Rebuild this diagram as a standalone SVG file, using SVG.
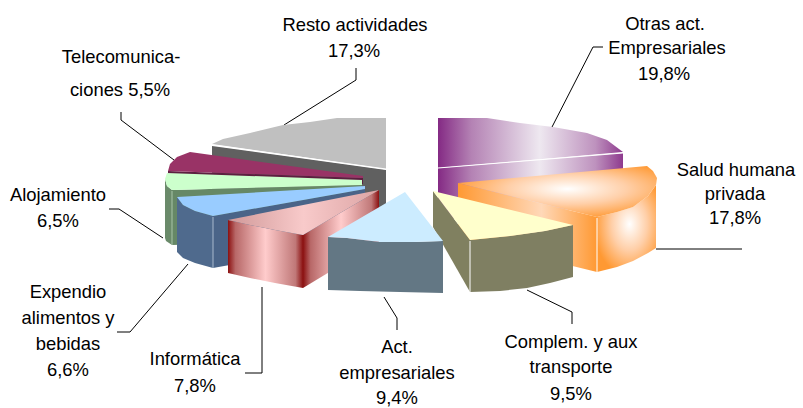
<svg xmlns="http://www.w3.org/2000/svg" width="803" height="408" viewBox="0 0 803 408">
<style>
text{font-family:"Liberation Sans",Arial,sans-serif;font-size:18.4px;fill:#000;text-anchor:middle}
.lead{fill:none;stroke:#000;stroke-width:1}
.hl{fill:none;stroke:#fff;stroke-width:1}
</style>
<defs>
<linearGradient id="gPurple" x1="0" y1="0" x2="1" y2="0">
<stop offset="0" stop-color="#842A84"/><stop offset="0.18" stop-color="#B482B4"/><stop offset="0.55" stop-color="#EEE8F0"/><stop offset="0.85" stop-color="#BE92BE"/><stop offset="1" stop-color="#8E3A8E"/>
</linearGradient>
<radialGradient id="gOrange" cx="0.55" cy="0.45" r="0.6">
<stop offset="0" stop-color="#FFFFFF"/><stop offset="0.5" stop-color="#FFCFA8"/><stop offset="1" stop-color="#FF9933"/>
</radialGradient>
<linearGradient id="gOrangeR" x1="0" y1="0" x2="1" y2="0">
<stop offset="0" stop-color="#FF9933"/><stop offset="0.6" stop-color="#FFD8B8"/><stop offset="1" stop-color="#FF9933"/>
</linearGradient>
<linearGradient id="gPink" x1="0" y1="0" x2="1" y2="0">
<stop offset="0" stop-color="#8B1010"/><stop offset="0.1" stop-color="#B86868"/><stop offset="0.5" stop-color="#FFCCCC"/><stop offset="0.9" stop-color="#C07878"/><stop offset="1" stop-color="#8B1010"/>
</linearGradient>
<linearGradient id="gPinkTop" x1="0" y1="0" x2="1" y2="0">
<stop offset="0" stop-color="#D09898"/><stop offset="0.5" stop-color="#F8CACA"/><stop offset="1" stop-color="#DCA4A4"/>
</linearGradient>
</defs>

<g id="connectors">
<path class="lead" d="M356,68 V80 L284,125"/>
<path class="lead" d="M603,47 H593 L552,127"/>
<path class="lead" d="M121,112 V120 L174,160"/>
<path class="lead" d="M656,249 H742"/>
<path class="lead" d="M109,209 H119 L163,238"/>
<path class="lead" d="M117,332 H130 L188,264"/>
<path class="lead" d="M245,373 H262 V287"/>
<path class="lead" d="M397,330 V318 L384,297"/>
<path class="lead" d="M572,324 V312 L527,290"/>
</g>

<g id="resto">
<path d="M212,146 L386,170 L386,222 L212,198 Z" fill="#606060"/>
<path d="M386,118 L337,118 L310,122 L283,125 L250,133 L223,139 L212,144 L386,169 Z" fill="#C0C0C0"/>
<path class="hl" d="M213,145 L386,169"/>
<text x="355" y="31">Resto actividades</text>
<text x="354" y="57">17,3%</text>
</g>

<g id="otras">
<path d="M438,168 L623,153 L623,205 L438,220 Z" fill="url(#gPurple)"/>
<path d="M438,118 L487,118 L520,123 L553,127 L587,133 L607,140 L623,152 L438,168 Z" fill="url(#gPurple)"/>
<path class="hl" d="M438,168 L623,153"/>
<text x="665" y="30">Otras act.</text>
<text x="667" y="54">Empresariales</text>
<text x="664" y="80">19,8%</text>
</g>

<g id="telecom">
<path d="M168,171 L363,178 L363,184 L168,178 Z" fill="#5C1F40"/>
<path d="M168,171 L170,164 L177,157 L190,152 L363,176 L363,178 Z" fill="#993366"/>
<text x="121" y="63">Telecomunica-</text>
<text x="120" y="96">ciones 5,5%</text>
</g>

<g id="alojamiento">
<path d="M172,190 L362,185 L362,240 L172,245 Z" fill="#668866"/>
<path d="M165,179 L167,186 L172,190 L172,245 L166,241 L165,238 Z" fill="#6A8A6A"/>
<path d="M167,173 L362,180 L362,185 L172,190 L167,186 L165,179 Z" fill="#CCFFCC"/>
<path d="M172,191 V245" stroke="#A8C4A8" stroke-width="1"/>
<text x="58" y="201">Alojamiento</text>
<text x="58" y="227">6,5%</text>
</g>

<g id="expendio">
<path d="M213,216 L365,189 L365,241 L213,268 Z" fill="#4A6488"/>
<path d="M177,197 L183,205 L195,211 L213,216 L213,268 L195,263 L183,258 L177,252 Z" fill="#4F6A8D"/>
<path d="M177,197 L365,186 L365,189 L213,216 L195,211 L183,205 Z" fill="#99CCFF"/>
<path d="M213,217 V268" stroke="#A8B8CC" stroke-width="1"/>
<text x="68" y="298">Expendio</text>
<text x="68" y="324">alimentos y</text>
<text x="68" y="350">bebidas</text>
<text x="68" y="376">6,6%</text>
</g>

<g id="informatica">
<path d="M303,235 L379,190 L379,242 L303,288 Z" fill="url(#gPink)"/>
<path d="M228,220 L250,225 L275,230 L303,235 L303,288 L275,283 L250,278 L228,273 Z" fill="url(#gPink)"/>
<path d="M379,190 L228,220 L250,225 L275,230 L303,235 Z" fill="url(#gPinkTop)"/>
<text x="195" y="365">Informática</text>
<text x="195" y="392">7,8%</text>
</g>

<g id="salud">
<path d="M458,183 L597,217 L597,272 L458,238 Z" fill="url(#gOrangeR)"/>
<path d="M597,217 L617,212 L633,207 L648,196 L656,185 L656,248 L648,253 L633,261 L617,267 L597,272 Z" fill="url(#gOrange)"/>
<path d="M458,183 L647,166 L653,171 L657,178 L656,185 L648,196 L633,207 L617,212 L597,217 Z" fill="url(#gOrange)"/>
<path class="hl" d="M597,218 V272"/>
<text x="736" y="176">Salud humana</text>
<text x="735" y="200">privada</text>
<text x="735" y="224">17,8%</text>
</g>

<g id="complem">
<path d="M433,191 L470,240 L470,292 L433,227 Z" fill="#808060"/>
<path d="M470,240 L510,236 L545,231 L573,225 L573,277 L550,283 L527,288 L500,291 L470,292 Z" fill="#7F7F62"/>
<path d="M433,191 L573,225 L545,231 L510,236 L470,240 Z" fill="#FFFFCC"/>
<path class="hl" d="M470,241 V292"/>
<text x="571" y="348">Complem. y aux</text>
<text x="571" y="373">transporte</text>
<text x="571" y="400">9,5%</text>
</g>

<g id="actemp">
<path d="M328,237 L347,238 L380,242 L413,242 L443,241 L443,293 L400,292 L360,291 L328,290 Z" fill="#637784"/>
<path d="M405,192 L443,241 L413,242 L380,242 L347,238 L328,237 Z" fill="#CCECFF"/>
<text x="397" y="353">Act.</text>
<text x="397" y="379">empresariales</text>
<text x="397" y="404">9,4%</text>
</g>
</svg>
